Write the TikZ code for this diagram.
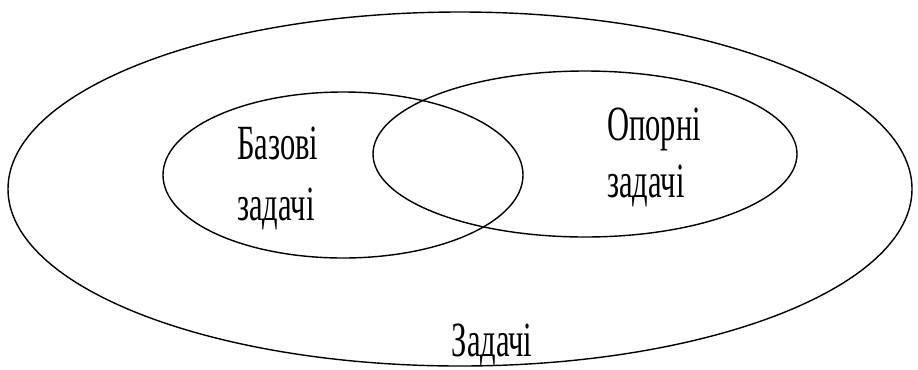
\documentclass[tikz,border=0pt]{standalone}
\usepackage{fontspec}
\setmainfont{Liberation Serif}
\usetikzlibrary{positioning}

\begin{document}
\begin{tikzpicture}[x=0.02cm,y=-0.02cm,line cap=round,line join=round,
  setline/.style={black,line width=0.8pt},
  setlabel/.style={font=\fontsize{28}{32}\selectfont,xscale=0.62,inner sep=0pt}]
 \useasboundingbox (0,0) rectangle (918,369);
 \draw[setline] (460,189) ellipse [x radius=452,y radius=177];
 \draw[setline] (343,175) ellipse [x radius=180,y radius=83];
 \draw[setline] (585,154) ellipse [x radius=212,y radius=83];
 \node[setlabel,anchor=base west] (bazovi) at (237,159) {Базові};
 \node[setlabel,anchor=base west] (bazovizad) at (237,220) {задачі};
 \node[setlabel,anchor=base west] (oporni) at (607,140) {Опорні};
 \node[setlabel,anchor=base west] (oporzad) at (607,197) {задачі};
 \node[setlabel,anchor=base] (zadachi) at (492,356) {Задачі};
\end{tikzpicture}
\end{document}
